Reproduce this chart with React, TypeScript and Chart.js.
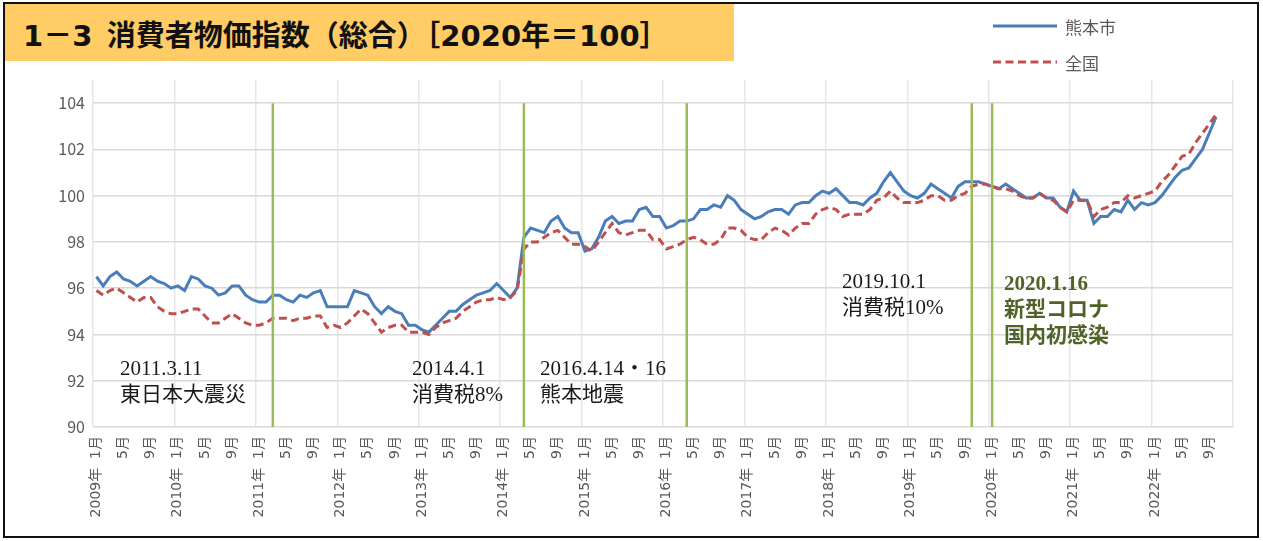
import React, { useEffect, useRef } from 'react';
import { Chart, registerables } from 'chart.js';

Chart.register(...registerables);

const TITLE = '1－3\u2002消費者物価指数（総合）［2020年＝100］';
const SERIES_NAMES = ['熊本市', '全国'];
const YEARS = [2009, 2010, 2011, 2012, 2013, 2014, 2015, 2016, 2017, 2018, 2019, 2020, 2021, 2022];
const MONTHS = ['1月', '2月', '3月', '4月', '5月', '6月', '7月', '8月', '9月', '10月', '11月', '12月'];
const CATEGORIES = YEARS.flatMap((y) => MONTHS.map((m) => `${y}年${m}`));
const TICK_LABELS = YEARS.flatMap((y) =>
  MONTHS.map((m, k) => (k % 4 !== 0 ? '' : k === 0 ? `${y}年  ${m}` : m))
);

// 熊本市 (2009年1月 – 2022年10月)
const KUMAMOTO: (number | null)[] = [
  96.5, 96.1, 96.5, 96.7, 96.4, 96.3, 96.1, 96.3, 96.5, 96.3, 96.2, 96.0,
  96.1, 95.9, 96.5, 96.4, 96.1, 96.0, 95.7, 95.8, 96.1, 96.1, 95.7, 95.5,
  95.4, 95.4, 95.7, 95.7, 95.5, 95.4, 95.7, 95.6, 95.8, 95.9, 95.2, 95.2,
  95.2, 95.2, 95.9, 95.8, 95.7, 95.2, 94.9, 95.2, 95.0, 94.9, 94.4, 94.4,
  94.2, 94.1, 94.4, 94.7, 95.0, 95.0, 95.3, 95.5, 95.7, 95.8, 95.9, 96.2,
  95.9, 95.6, 96.0, 98.2, 98.6, 98.5, 98.4, 98.9, 99.1, 98.6, 98.4, 98.4,
  97.6, 97.7, 98.2, 98.9, 99.1, 98.8, 98.9, 98.9, 99.4, 99.5, 99.1, 99.1,
  98.6, 98.7, 98.9, 98.9, 99.0, 99.4, 99.4, 99.6, 99.5, 100.0, 99.8, 99.4,
  99.2, 99.0, 99.1, 99.3, 99.4, 99.4, 99.2, 99.6, 99.7, 99.7, 100.0, 100.2,
  100.1, 100.3, 100.0, 99.7, 99.7, 99.6, 99.9, 100.1, 100.6, 101.0, 100.6, 100.2,
  100.0, 99.9, 100.1, 100.5, 100.3, 100.1, 99.9, 100.4, 100.6, 100.6, 100.6, 100.5,
  100.4, 100.3, 100.5, 100.3, 100.1, 99.9, 99.9, 100.1, 99.9, 99.9, 99.5, 99.3,
  100.2, 99.8, 99.8, 98.8, 99.1, 99.1, 99.4, 99.3, 99.8, 99.4, 99.7, 99.6,
  99.7, 100.0, 100.4, 100.8, 101.1, 101.2, 101.6, 102.0, 102.7, 103.4, null, null,
];

// 全国 (2009年1月 – 2022年10月)
const ZENKOKU: (number | null)[] = [
  95.9, 95.7, 95.9, 96.0, 95.8, 95.6, 95.4, 95.6, 95.6, 95.2, 95.0, 94.9,
  94.9, 95.0, 95.1, 95.1, 94.8, 94.5, 94.5, 94.7, 94.9, 94.7, 94.5, 94.4,
  94.4, 94.5, 94.7, 94.7, 94.7, 94.6, 94.7, 94.7, 94.8, 94.8, 94.3, 94.4,
  94.3, 94.5, 94.8, 95.1, 94.9, 94.5, 94.1, 94.3, 94.4, 94.4, 94.1, 94.1,
  94.1, 94.0, 94.3, 94.5, 94.6, 94.7, 95.0, 95.2, 95.4, 95.5, 95.5, 95.6,
  95.5, 95.6, 95.9, 97.7, 98.0, 98.0, 98.2, 98.4, 98.5, 98.2, 97.9, 97.9,
  97.8, 97.6, 98.0, 98.4, 98.8, 98.4, 98.3, 98.4, 98.5, 98.5, 98.1, 98.1,
  97.7, 97.8, 97.9, 98.1, 98.2, 98.1, 97.9, 97.9, 98.1, 98.6, 98.6, 98.5,
  98.2, 98.1, 98.1, 98.4, 98.6, 98.5, 98.3, 98.6, 98.8, 98.8, 99.2, 99.4,
  99.5, 99.4, 99.1, 99.2, 99.2, 99.2, 99.4, 99.8, 99.9, 100.2, 99.9, 99.7,
  99.7, 99.7, 99.8, 100.0, 100.0, 99.8, 99.8, 100.0, 100.1, 100.4, 100.5, 100.5,
  100.4, 100.3, 100.3, 100.2, 100.0, 99.9, 99.9, 100.1, 99.9, 99.8, 99.5, 99.3,
  99.8, 99.8, 99.8, 99.1, 99.4, 99.5, 99.7, 99.7, 100.0, 99.9, 100.0, 100.1,
  100.2, 100.6, 100.9, 101.3, 101.7, 101.8, 102.3, 102.7, 103.1, 103.5, null, null,
];

const Y_MIN = 90;
const Y_MAX = 105;
const Y_STEP = 2;
const Y_TOP_TICK = 104;

const EVENT_MONTHS = ['2011年3月', '2014年4月', '2016年4月', '2019年10月', '2020年1月'];

const NOTE_2011 = ['2011.3.11', '東日本大震災'];
const NOTE_2014 = ['2014.4.1', '消費税8%'];
const NOTE_2016 = ['2016.4.14・16', '熊本地震'];
const NOTE_2019 = ['2019.10.1', '消費税10%'];
const NOTE_2020 = ['2020.1.16', '新型コロナ', '国内初感染'];

const BLUE = '#4A7EBB';
const RED = '#C0504D';
const GREEN = '#9BBB59';
const AXIS_TEXT = '#595959';
const SANS = "'Noto Sans CJK JP', 'Noto Sans', sans-serif";
const TICK_FONT = "'DejaVu Sans', 'Noto Sans CJK JP', sans-serif";
const SERIF = "'Liberation Serif', 'Noto Sans CJK JP', serif";
const TITLE_FONT = "'DejaVu Sans', 'Noto Sans CJK JP', sans-serif";

const eventLinePlugin = {
  id: 'eventLines',
  afterDatasetsDraw(chart: any) {
    const { ctx, scales } = chart;
    const x = scales.x;
    const y = scales.y;
    const top = y.getPixelForValue(Y_TOP_TICK);
    const bottom = y.getPixelForValue(Y_MIN);
    ctx.save();
    ctx.strokeStyle = GREEN;
    ctx.lineWidth = 2.5;
    EVENT_MONTHS.forEach((m) => {
      const px = x.getPixelForValue(CATEGORIES.indexOf(m));
      ctx.beginPath();
      ctx.moveTo(px, top);
      ctx.lineTo(px, bottom);
      ctx.stroke();
    });
    ctx.restore();
  },
};

function Note({ lines, left, top, bold, color }: { lines: string[]; left: number; top: number; bold?: boolean; color?: string }) {
  return (
    <div
      style={{
        position: 'absolute',
        left,
        top,
        fontFamily: SERIF,
        fontSize: 21,
        lineHeight: '26px',
        fontWeight: bold ? 700 : 400,
        color: color || '#1a1a1a',
        whiteSpace: 'nowrap',
      }}
    >
      {lines.map((l) => (
        <div key={l}>{l}</div>
      ))}
    </div>
  );
}

export default function App() {
  const canvasRef = useRef<HTMLCanvasElement | null>(null);

  useEffect(() => {
    if (!canvasRef.current) return;
    const chart = new Chart(canvasRef.current, {
      type: 'line',
      data: {
        labels: CATEGORIES,
        datasets: [
          {
            label: SERIES_NAMES[0],
            data: KUMAMOTO,
            borderColor: BLUE,
            backgroundColor: BLUE,
            borderWidth: 3,
            pointRadius: 0,
            tension: 0,
            order: 1,
          },
          {
            label: SERIES_NAMES[1],
            data: ZENKOKU,
            borderColor: RED,
            backgroundColor: RED,
            borderWidth: 3,
            borderDash: [8, 4.5],
            pointRadius: 0,
            tension: 0,
            order: 0,
          },
        ],
      },
      options: {
        responsive: false,
        animation: false,
        devicePixelRatio: 1,
        layout: { padding: { top: 80, left: 0, right: 30, bottom: 14 } },
        plugins: {
          legend: { display: false },
          tooltip: { enabled: false },
          title: { display: false },
        },
        scales: {
          x: {
            type: 'category',
            offset: true,
            border: { display: false },
            grid: {
              offset: true,
              drawTicks: false,
              lineWidth: 1.5,
              color: (ctx: any) =>
                ctx.index === undefined || ctx.index % 12 === 0 ? '#E8E8E8' : 'rgba(0,0,0,0)',
            },
            ticks: {
              autoSkip: false,
              minRotation: 90,
              maxRotation: 90,
              padding: 9,
              color: AXIS_TEXT,
              font: { family: TICK_FONT, size: 14 },
              callback: (_v: any, i: number) => TICK_LABELS[i],
            },
            afterFit: (s: any) => {
              s.height = 100;
            },
          },
          y: {
            min: Y_MIN,
            max: Y_MAX,
            border: { display: false },
            grid: { color: '#D9D9D9', lineWidth: 1.5, drawTicks: false },
            ticks: {
              stepSize: Y_STEP,
              includeBounds: false,
              padding: 8,
              color: AXIS_TEXT,
              font: { family: SANS, size: 16 },
            },
            afterFit: (s: any) => {
              s.width = 93;
            },
          },
        },
      } as any,
      plugins: [eventLinePlugin],
    });
    return () => chart.destroy();
  }, []);

  return (
    <div style={{ position: 'absolute', left: 0, top: 0, width: 1263, height: 541, background: '#fff', overflow: 'hidden' }}>
      <canvas ref={canvasRef} width={1263} height={541} style={{ position: 'absolute', left: 0, top: 0 }} />
      <div style={{ position: 'absolute', left: 3, top: 2, width: 1256, height: 536, border: '2px solid #111', boxSizing: 'border-box' }} />
      <div
        style={{
          position: 'absolute',
          left: 5,
          top: 4,
          width: 729,
          height: 57,
          background: '#FFCC66',
          display: 'flex',
          alignItems: 'center',
        }}
      >
        <span style={{ marginLeft: 18, fontFamily: TITLE_FONT, fontWeight: 700, fontSize: 29, color: '#111', whiteSpace: 'pre' }}>{TITLE}</span>
      </div>
      <div style={{ position: 'absolute', left: 993, top: 13, fontFamily: SANS, fontSize: 17, color: AXIS_TEXT }}>
        <div style={{ display: 'flex', alignItems: 'center', height: 26 }}>
          <svg width={66} height={6} style={{ marginRight: 6 }}>
            <line x1={0} y1={3} x2={64} y2={3} stroke={BLUE} strokeWidth={3} />
          </svg>
          <span>{SERIES_NAMES[0]}</span>
        </div>
        <div style={{ display: 'flex', alignItems: 'center', height: 26, marginTop: 10 }}>
          <svg width={66} height={6} style={{ marginRight: 6 }}>
            <line x1={0} y1={3} x2={64} y2={3} stroke={RED} strokeWidth={3} strokeDasharray="8 4.5" />
          </svg>
          <span>{SERIES_NAMES[1]}</span>
        </div>
      </div>
      <Note lines={NOTE_2011} left={120} top={355} />
      <Note lines={NOTE_2014} left={412} top={355} />
      <Note lines={NOTE_2016} left={540} top={355} />
      <Note lines={NOTE_2019} left={842} top={268} />
      <Note lines={NOTE_2020} left={1004} top={270} bold color="#4F6228" />
    </div>
  );
}
